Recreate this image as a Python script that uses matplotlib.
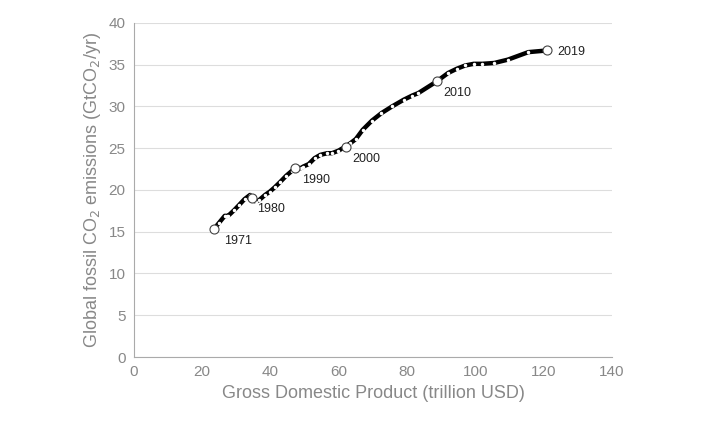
import matplotlib
matplotlib.use('Agg')
import matplotlib.pyplot as plt

plt.rcParams['font.family'] = ['Liberation Sans', 'DejaVu Sans']

years = list(range(1971, 2020))
gdp = [23.4, 24.8, 26.6, 27.2, 27.6, 29.4, 30.8, 32.4, 34.0, 34.6,
       35.3, 35.7, 36.7, 38.4, 39.8, 41.2, 42.7, 44.6, 46.3, 47.3,
       47.9, 48.8, 49.6, 51.2, 52.9, 54.6, 56.6, 58.0, 59.9, 62.0,
       63.4, 65.0, 67.0, 69.7, 72.5, 75.6, 79.0, 81.5, 83.3, 88.7,
       92.0, 94.5, 97.0, 99.5, 102.0, 105.5, 109.5, 115.5, 121.0]
co2 = [15.3, 16.0, 16.9, 16.9, 16.9, 17.6, 18.2, 18.9, 19.4, 19.0,
       18.7, 18.6, 18.8, 19.4, 19.8, 20.3, 20.9, 21.7, 22.3, 22.6,
       22.7, 22.6, 22.8, 23.1, 23.8, 24.2, 24.4, 24.4, 24.7, 25.2,
       25.6, 26.1, 27.2, 28.3, 29.2, 30.0, 30.8, 31.3, 31.6, 33.0,
       34.0, 34.5, 34.9, 35.1, 35.1, 35.2, 35.6, 36.5, 36.7]
label_years = [1971, 1980, 1990, 2000, 2010, 2019]
label_offsets = {1971: (3, -1.8), 1980: (1.5, -1.6), 1990: (2, -1.8),
                 2000: (2, -1.8), 2010: (2, -1.8), 2019: (3, -0.6)}

fig = plt.figure(figsize=(7.2, 4.24), dpi=100)
ax = fig.add_axes([0.186, 0.158, 0.664, 0.788])

ax.plot(gdp, co2, color='black', lw=3.2, zorder=3)
ax.plot(gdp, co2, ls='none', marker='o', ms=1.5, color='white', zorder=4)
for y in label_years:
    i = years.index(y)
    ax.plot(gdp[i], co2[i], marker='o', ms=6.5, mfc='white', mec='#444444',
            mew=0.8, zorder=5)
    dx, dy = label_offsets[y]
    ax.text(gdp[i] + dx, co2[i] + dy, str(y), fontsize=9, color='#222222')

ax.set_xlim(0, 140)
ax.set_ylim(0, 40)
ax.set_xticks(range(0, 141, 20))
ax.set_yticks(range(0, 41, 5))
ax.grid(axis='y', color='#dddddd', lw=0.8)
ax.set_axisbelow(True)
for s in ['top', 'right']:
    ax.spines[s].set_visible(False)
for s in ['left', 'bottom']:
    ax.spines[s].set_color('#aaaaaa')
ax.tick_params(colors='#888888', labelsize=11, length=0, pad=6)
ax.set_xlabel('Gross Domestic Product (trillion USD)', fontsize=13, color='#888888')
ax.set_ylabel('Global fossil CO$_2$ emissions (GtCO$_2$/yr)', fontsize=13, color='#888888')

fig.savefig('out.png', dpi=100)
